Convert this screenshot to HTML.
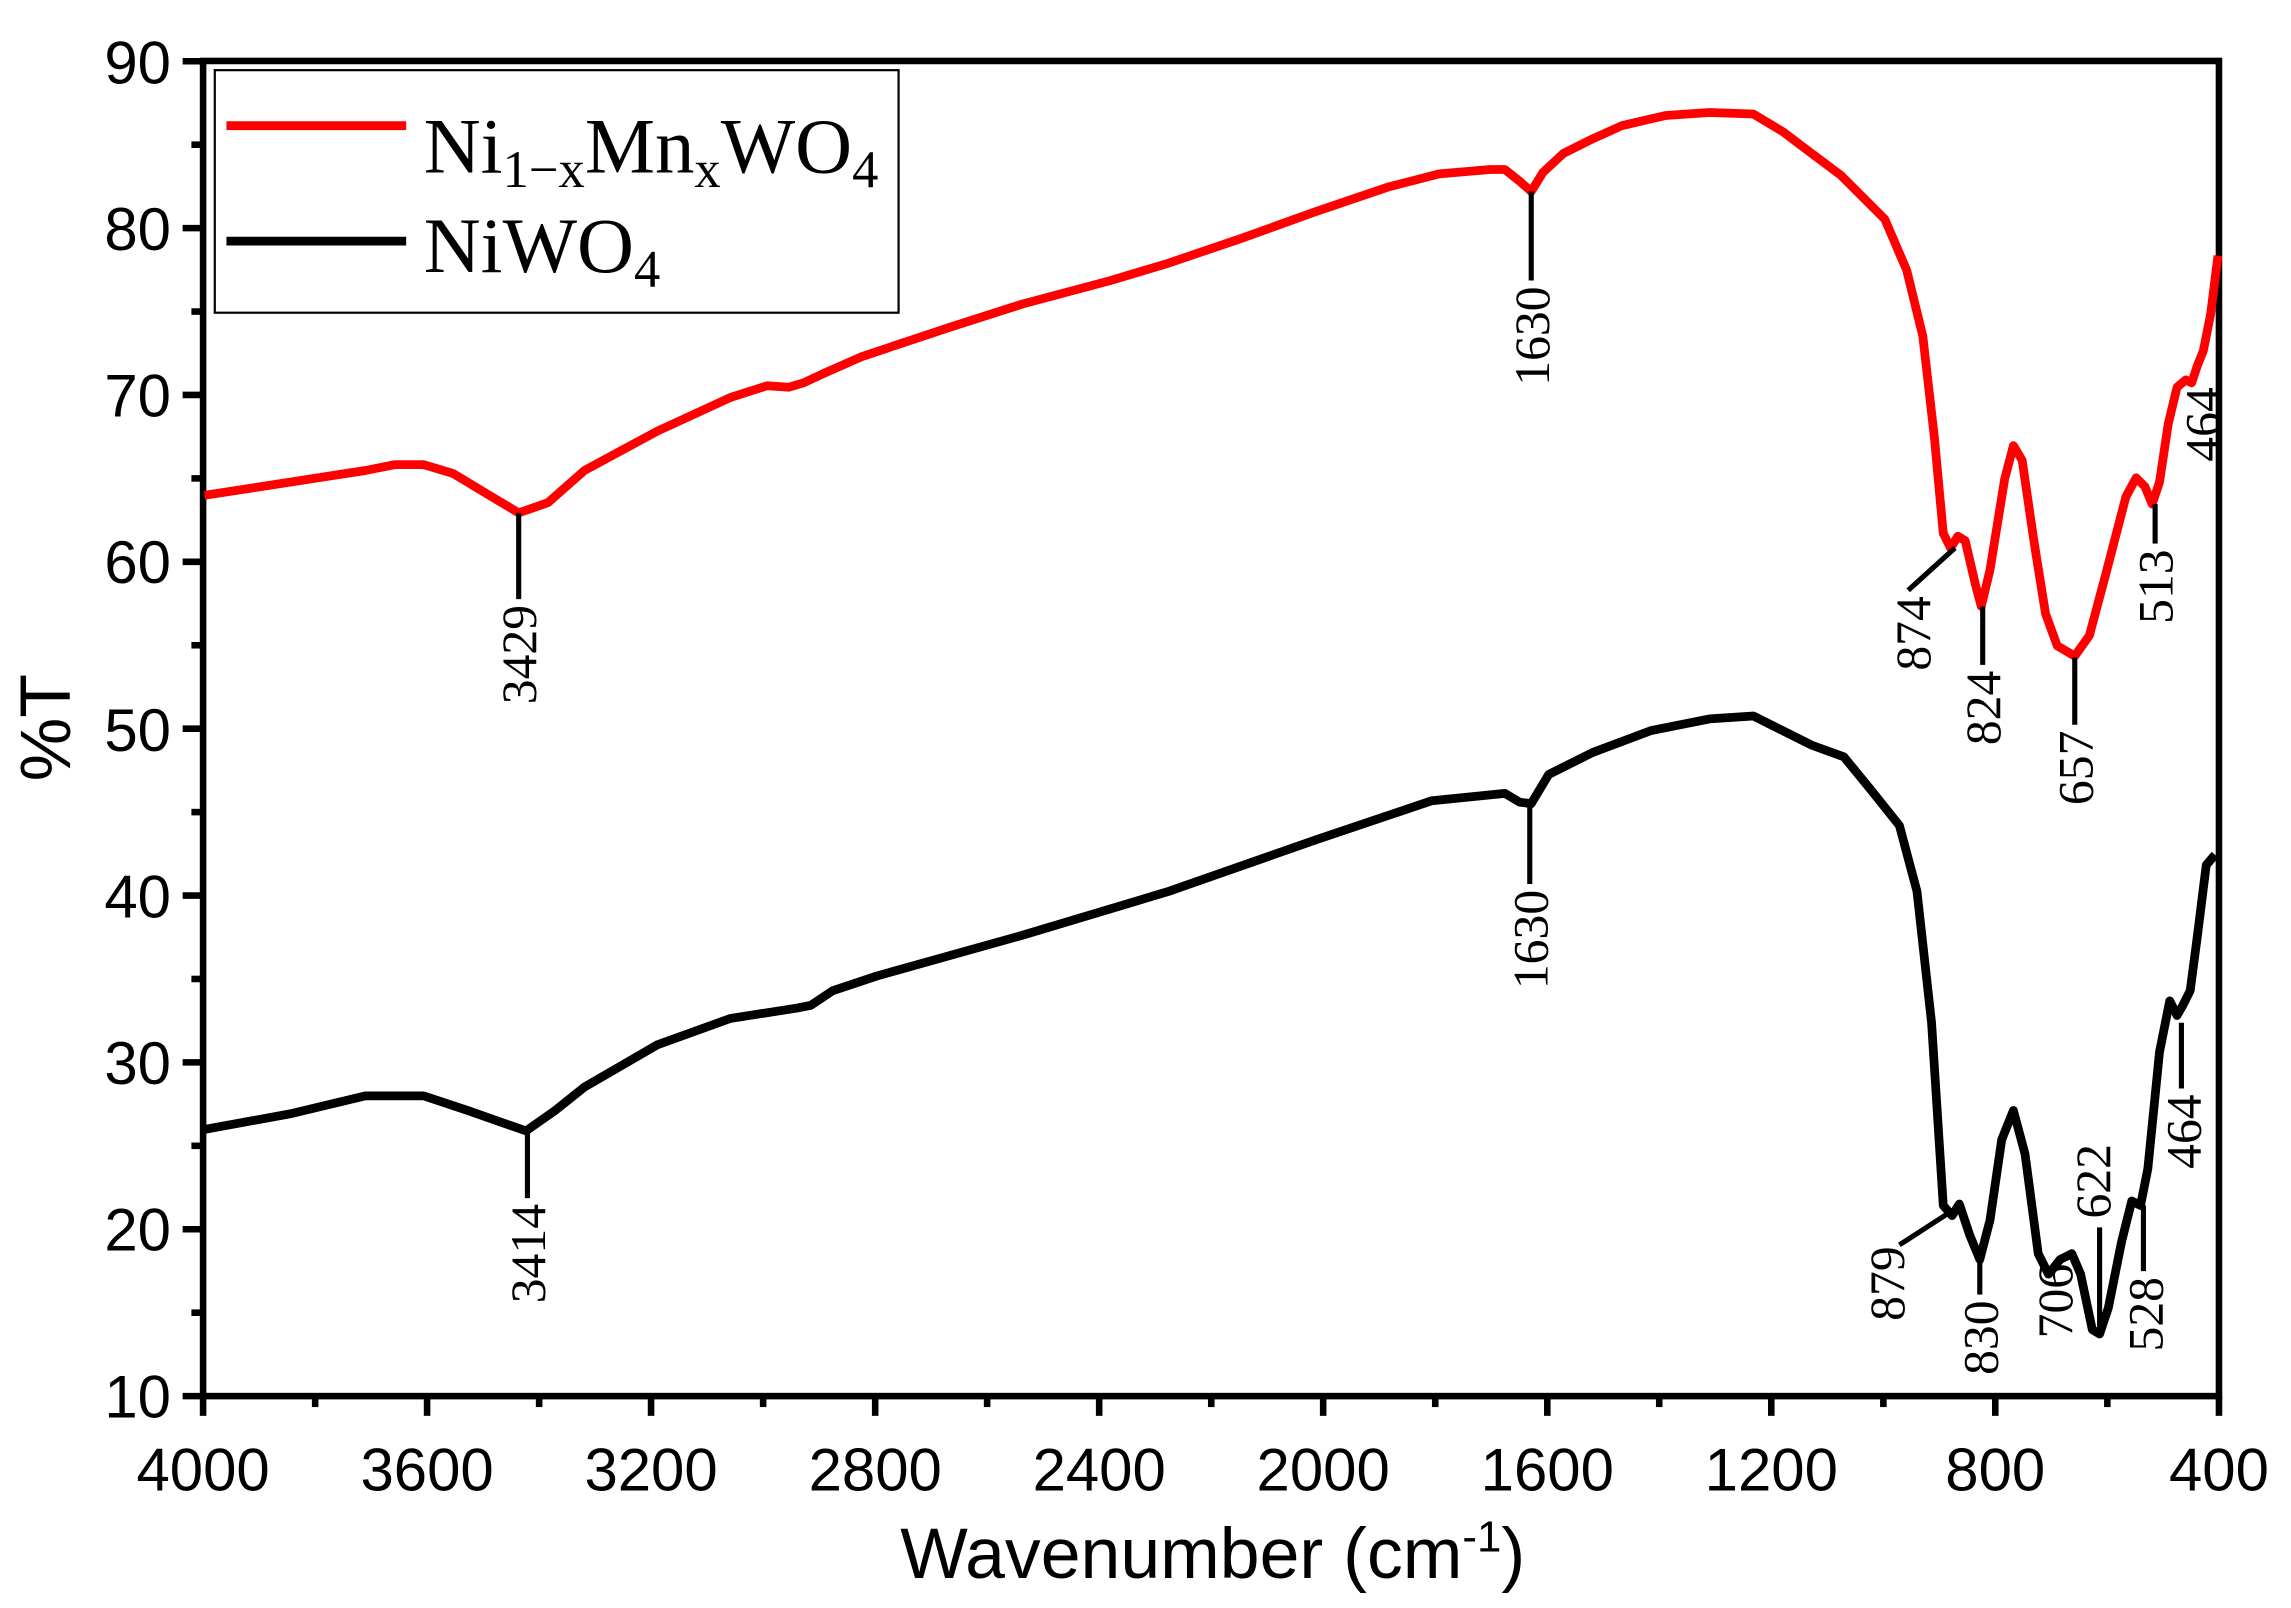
<!DOCTYPE html>
<html><head><meta charset="utf-8"><style>html,body{margin:0;padding:0;background:#fff}svg{display:block}</style></head>
<body>
<svg width="2291" height="1608" viewBox="0 0 1568 1100.5" xmlns="http://www.w3.org/2000/svg">
<rect width="1568" height="1100.5" fill="#fff"/>
<g stroke="#000" stroke-width="4.5" fill="none">
<rect x="139" y="41.7" width="1379.7" height="913.8"/>
</g>
<g stroke="#000" stroke-width="4.5">
<line x1="125" y1="955.5" x2="139" y2="955.5"/><line x1="125" y1="841.3" x2="139" y2="841.3"/><line x1="125" y1="727.1" x2="139" y2="727.1"/><line x1="125" y1="612.9" x2="139" y2="612.9"/><line x1="125" y1="498.7" x2="139" y2="498.7"/><line x1="125" y1="384.5" x2="139" y2="384.5"/><line x1="125" y1="270.3" x2="139" y2="270.3"/><line x1="125" y1="156.1" x2="139" y2="156.1"/><line x1="125" y1="41.9" x2="139" y2="41.9"/>
<line x1="131" y1="898.4" x2="139" y2="898.4"/><line x1="131" y1="784.2" x2="139" y2="784.2"/><line x1="131" y1="670" x2="139" y2="670"/><line x1="131" y1="555.8" x2="139" y2="555.8"/><line x1="131" y1="441.6" x2="139" y2="441.6"/><line x1="131" y1="327.4" x2="139" y2="327.4"/><line x1="131" y1="213.2" x2="139" y2="213.2"/><line x1="131" y1="99" x2="139" y2="99"/>
<line x1="139" y1="955.5" x2="139" y2="969"/><line x1="292.3" y1="955.5" x2="292.3" y2="969"/><line x1="445.6" y1="955.5" x2="445.6" y2="969"/><line x1="599" y1="955.5" x2="599" y2="969"/><line x1="752.3" y1="955.5" x2="752.3" y2="969"/><line x1="905.6" y1="955.5" x2="905.6" y2="969"/><line x1="1059" y1="955.5" x2="1059" y2="969"/><line x1="1212.3" y1="955.5" x2="1212.3" y2="969"/><line x1="1365.6" y1="955.5" x2="1365.6" y2="969"/><line x1="1518.7" y1="955.5" x2="1518.7" y2="969"/>
<line x1="215.7" y1="955.5" x2="215.7" y2="963"/><line x1="369" y1="955.5" x2="369" y2="963"/><line x1="522.3" y1="955.5" x2="522.3" y2="963"/><line x1="675.6" y1="955.5" x2="675.6" y2="963"/><line x1="829" y1="955.5" x2="829" y2="963"/><line x1="982.3" y1="955.5" x2="982.3" y2="963"/><line x1="1135.6" y1="955.5" x2="1135.6" y2="963"/><line x1="1289" y1="955.5" x2="1289" y2="963"/><line x1="1442.3" y1="955.5" x2="1442.3" y2="963"/>
</g>
<g font-family="Liberation Sans, sans-serif" font-size="41" fill="#000" text-anchor="end">
<text x="117" y="970">10</text><text x="117" y="856">20</text><text x="117" y="742">30</text><text x="117" y="628">40</text><text x="117" y="514">50</text><text x="117" y="399">60</text><text x="117" y="285">70</text><text x="117" y="171">80</text><text x="117" y="57">90</text>
</g>
<g font-family="Liberation Sans, sans-serif" font-size="41" fill="#000" text-anchor="middle">
<text x="139" y="1020">4000</text><text x="292.3" y="1020">3600</text><text x="445.6" y="1020">3200</text><text x="599" y="1020">2800</text><text x="752.3" y="1020">2400</text><text x="905.6" y="1020">2000</text><text x="1059" y="1020">1600</text><text x="1212.3" y="1020">1200</text><text x="1365.6" y="1020">800</text><text x="1518.7" y="1020">400</text>
<text x="830" y="1080" font-size="49">Wavenumber (cm<tspan font-size="30" dy="-18">-1</tspan><tspan dy="18">)</tspan></text>
<text transform="translate(48,498) rotate(-90)" font-size="49">%T</text>
</g>
<rect x="147" y="48" width="468" height="166" fill="#fff" stroke="#000" stroke-width="1.5"/>
<line x1="155" y1="86" x2="278" y2="86" stroke="#f00" stroke-width="6"/>
<line x1="155" y1="165" x2="278" y2="165" stroke="#000" stroke-width="6"/>
<g font-family="Liberation Serif, serif" font-size="54" fill="#000">
<text x="290" y="118">Ni<tspan font-size="36" dy="10">1−x</tspan><tspan dy="-10">Mn</tspan><tspan font-size="36" dy="10">x</tspan><tspan dy="-10">WO</tspan><tspan font-size="36" dy="10">4</tspan></text>
<text x="290" y="186">NiWO<tspan font-size="36" dy="10">4</tspan></text>
</g>
<polyline fill="none" stroke="#f00" stroke-width="6" stroke-linejoin="round" points="140,339 250,322 270,318 290,318 310,324 330,336 355,351 375,344 400,322 450,295 500,272 525,264 540,265 550,262 565,255 590,244 650,224 700,208 760,192 800,180 850,163 900,145 950,128 985,119 1020,116 1030,116 1040,124 1048,131 1056,118 1070,105 1090,95 1110,86 1140,79 1170,77 1200,78 1220,90 1240,105 1260,120 1290,150 1305,185 1316,230 1324,300 1330,365 1335,375 1340,367 1345,370 1352,400 1356,415 1362,390 1372,328 1378,305 1384,315 1392,370 1400,420 1408,442 1420,449 1430,435 1442,390 1455,340 1462,327 1468,333 1473,345 1478,330 1484,290 1490,265 1496,260 1500,262 1504,250 1508,240 1513,215 1518,175"/>
<polyline fill="none" stroke="#000" stroke-width="6" stroke-linejoin="round" points="140,773 200,762 250,750 290,750 320,760 360,774 380,760 400,744 450,715 500,697 545,690 555,688 570,678 600,668 700,640 800,610 900,575 980,548 1030,543 1040,549 1048,550 1060,530 1090,515 1130,500 1170,492 1200,490 1220,500 1240,510 1262,518 1280,540 1300,565 1312,610 1322,700 1330,825 1336,832 1341,824 1348,845 1355,862 1362,835 1370,780 1378,760 1386,790 1395,858 1402,872 1410,862 1418,858 1424,872 1432,910 1437,913 1443,895 1452,850 1459,822 1465,825 1470,800 1478,720 1485,685 1490,695 1494,688 1499,678 1504,640 1510,592 1516,585"/>
<g stroke="#000" stroke-width="3.5">
<line x1="355" y1="351" x2="355" y2="410"/><line x1="1048" y1="131" x2="1048" y2="192"/>
<line x1="1338" y1="375" x2="1306" y2="404"/><line x1="1357" y1="415" x2="1357" y2="455"/>
<line x1="1420" y1="450" x2="1420" y2="496"/><line x1="1475" y1="345" x2="1475" y2="372"/>
<line x1="361" y1="774" x2="361" y2="820"/><line x1="1047" y1="550" x2="1047" y2="605"/>
<line x1="1334" y1="830" x2="1300" y2="852"/><line x1="1355" y1="862" x2="1355" y2="886"/>
<line x1="1437" y1="840" x2="1437" y2="912"/><line x1="1467" y1="825" x2="1467" y2="870"/>
<line x1="1493" y1="700" x2="1493" y2="745"/>
</g>
<g font-family="Liberation Serif, serif" font-size="34" fill="#000" text-anchor="end">
<text transform="translate(367,414) rotate(-90)">3429</text>
<text transform="translate(1060,196) rotate(-90)">1630</text>
<text transform="translate(1321,408) rotate(-90)">874</text>
<text transform="translate(1369,459) rotate(-90)">824</text>
<text transform="translate(1432,500) rotate(-90)">657</text>
<text transform="translate(1487,376) rotate(-90)">513</text>
<text transform="translate(1519,265) rotate(-90)">464</text>
<text transform="translate(373,824) rotate(-90)">3414</text>
<text transform="translate(1059,609) rotate(-90)">1630</text>
<text transform="translate(1303,853) rotate(-90)">879</text>
<text transform="translate(1367,890) rotate(-90)">830</text>
<text transform="translate(1418,865) rotate(-90)">706</text>
<text transform="translate(1444,783) rotate(-90)">622</text>
<text transform="translate(1480,874) rotate(-90)">528</text>
<text transform="translate(1506,749) rotate(-90)">464</text>
</g>
</svg>
</body></html>
